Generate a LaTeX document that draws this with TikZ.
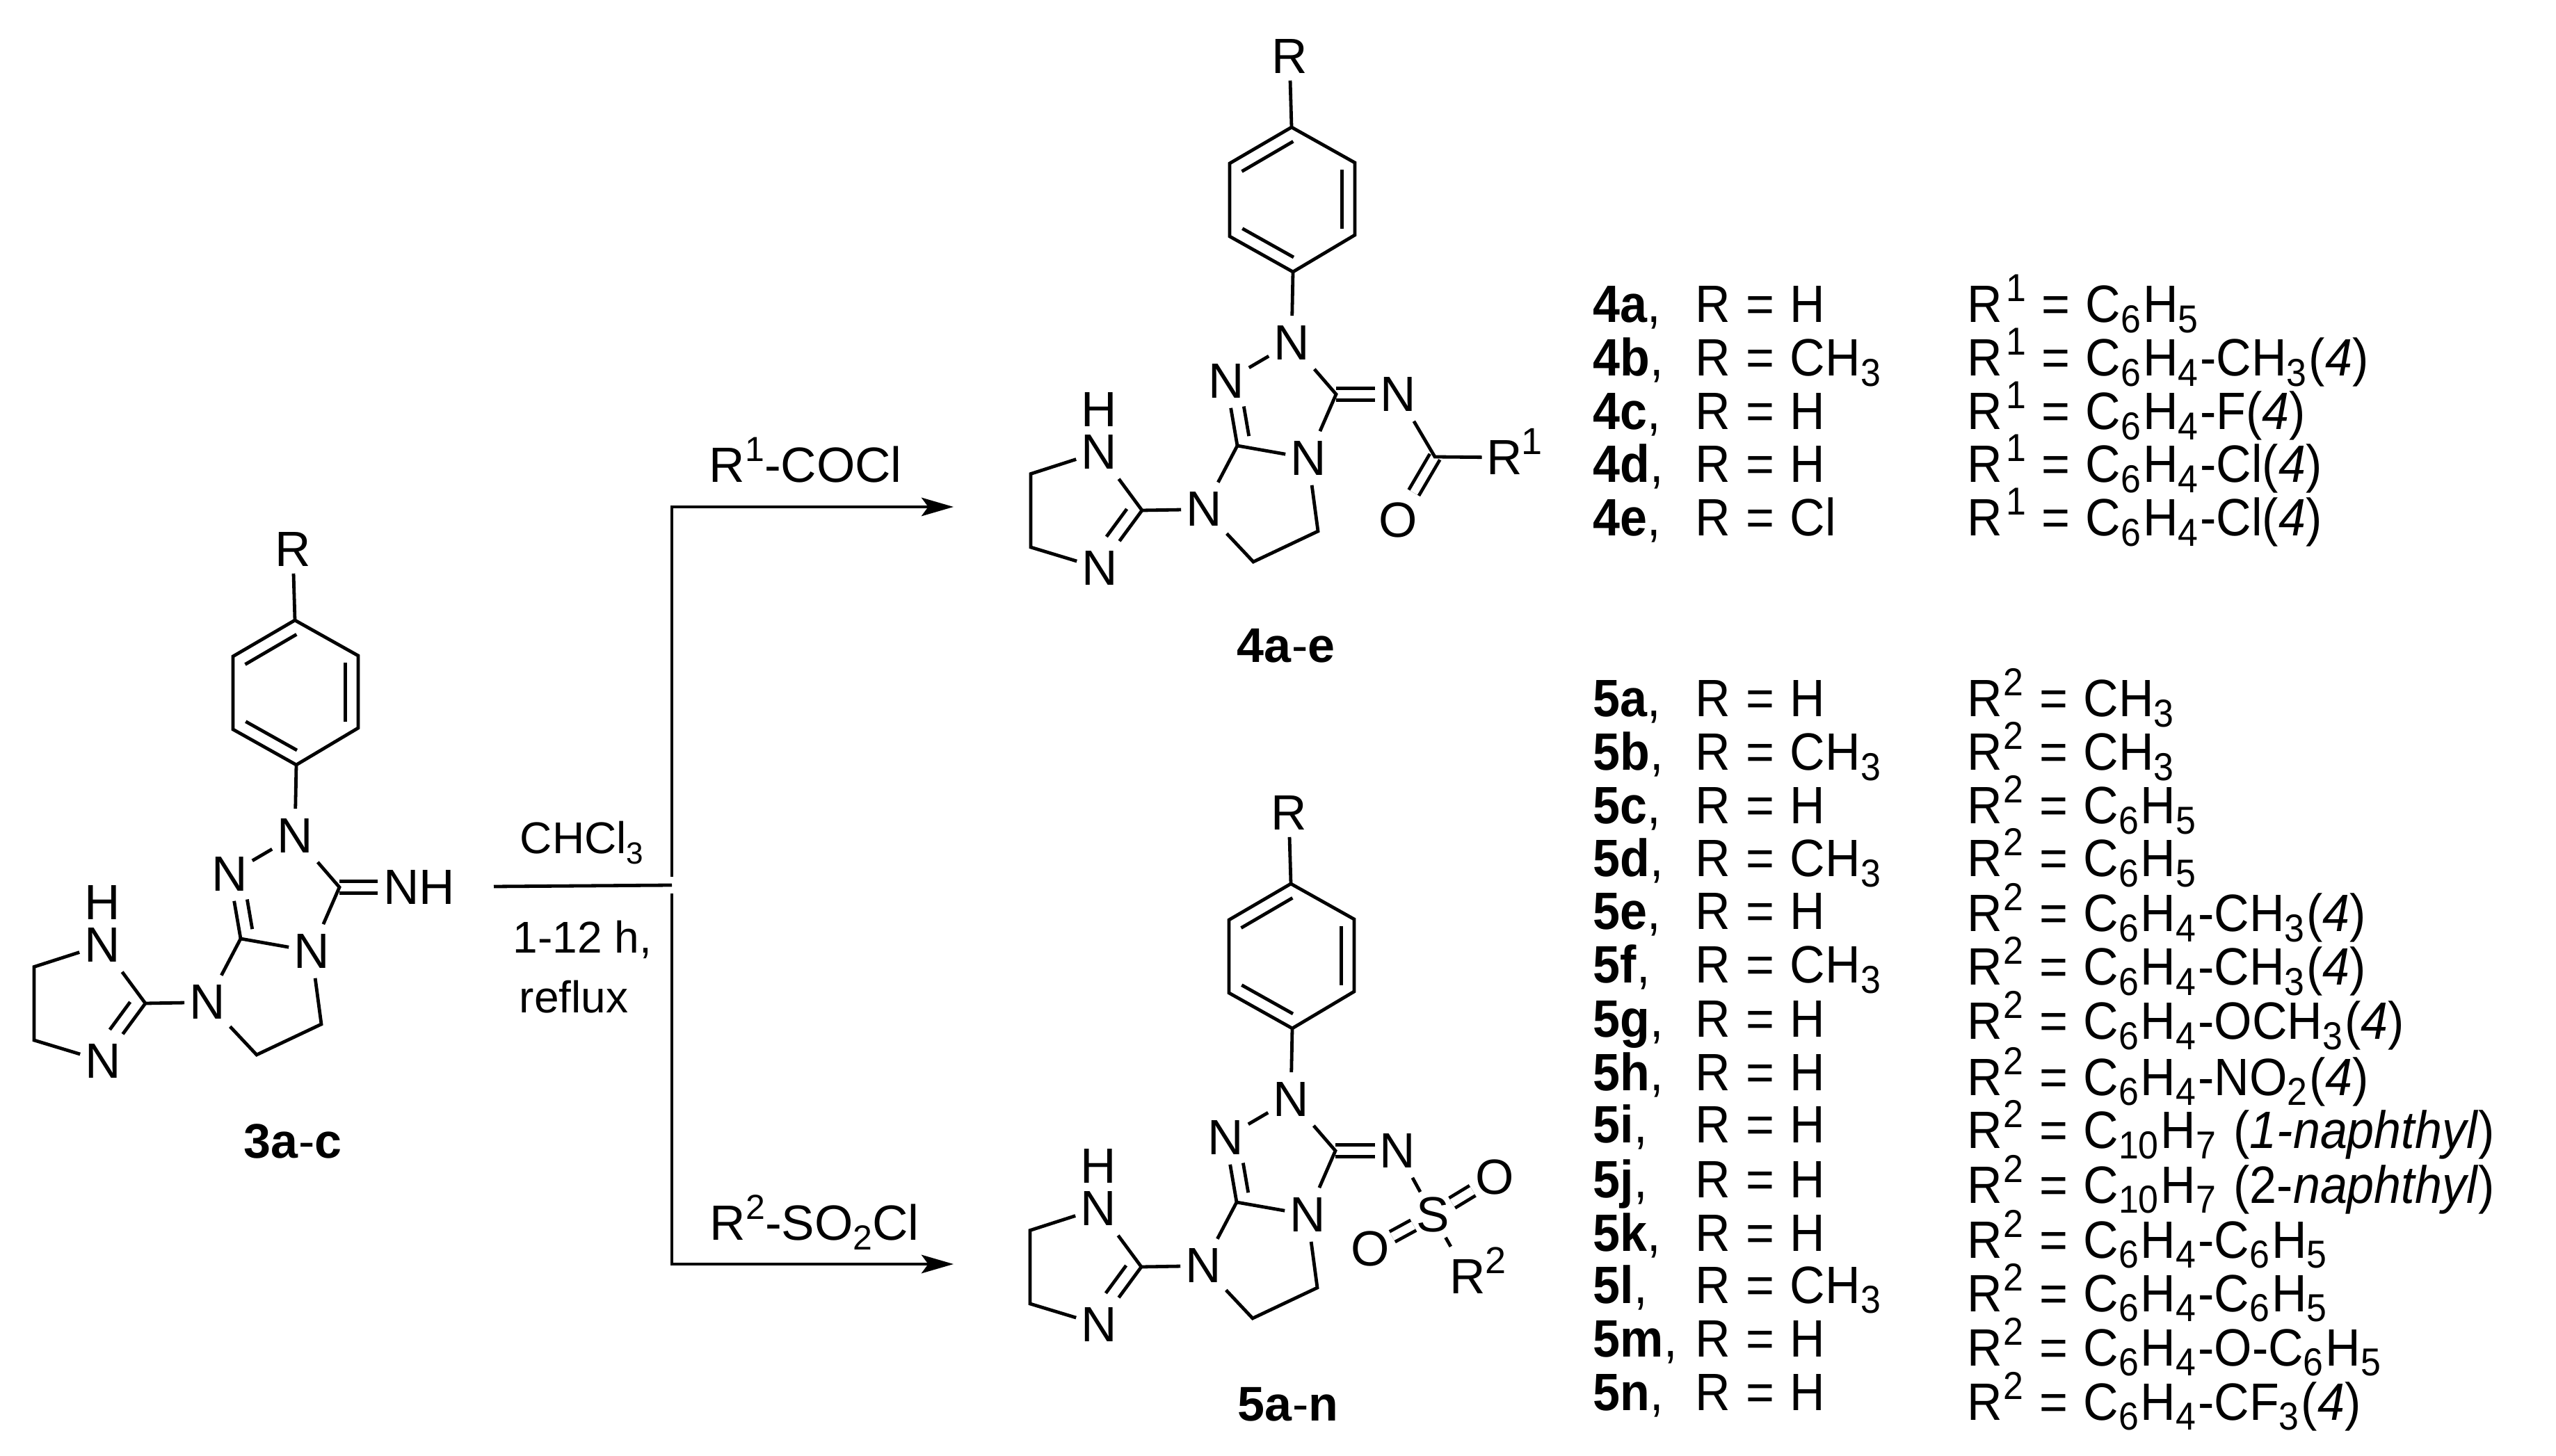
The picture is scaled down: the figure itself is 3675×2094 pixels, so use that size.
\documentclass[tikz,border=0pt]{standalone}
\usepackage{fontspec}
\setmainfont{Liberation Sans}
\newfontfamily\tabfam[FakeStretch=0.926]{Liberation Sans}
\usetikzlibrary{calc,arrows.meta}
\newcommand\ssz{11}
\newcommand\skn{0pt}
\newcommand\myup[1]{\raisebox{7.5pt}{\fontsize{\ssz}{\ssz}\selectfont #1}}
\newcommand\mydn[1]{\raisebox{-3.7pt}{\fontsize{\ssz}{\ssz}\selectfont #1}\kern\skn\relax}
\newcommand\atomfont{\fontsize{17.8}{17.8}\selectfont}
\newcommand\rxnfont{\fontsize{16}{16}\selectfont\renewcommand\ssz{11}}
\newcommand\rxnfontb{\fontsize{17.8}{17.8}\selectfont\renewcommand\ssz{12.5}}
\newcommand\tabfont{\tabfam\fontsize{18.9}{18.9}\selectfont\renewcommand\ssz{14}\renewcommand\skn{.75pt}\spaceskip=5.6pt\relax}
\newcommand\cmpfont{\fontsize{17.5}{17.5}\selectfont}
\tikzset{
  bond/.style={line width=1.2pt},
  dbl/.style={double=white,line width=1.2pt,double distance=2.95pt},
  atom/.style={rectangle,inner sep=0pt,minimum width=16pt,minimum height=19pt,font=\atomfont},
  rgroup/.style={atom,minimum height=17pt},
  oxy/.style={atom,minimum width=15.5pt},
  sulf/.style={atom,minimum width=13.5pt,minimum height=16pt},
  supr/.style={inner sep=0pt,font=\fontsize{13.5}{13.5}\selectfont},
  txt/.style={inner sep=0pt,anchor=base west,font=\rxnfont},
  txtb/.style={inner sep=0pt,anchor=base west,font=\rxnfontb},
  tab/.style={inner sep=0pt,anchor=base west,font=\tabfont},
  cmp/.style={inner sep=0pt,anchor=base,font=\cmpfont},
  rxn/.style={line width=1.2pt},
  rxnarrow/.style={line width=1.2pt,-{Stealth[length=11.5pt,width=6.6pt,inset=2.4pt]}}
}
% offset inner line of a double bond: from a towards b, on the right of the direction
\newcommand\inbond[4]{\draw[bond] ($(#1)!#3!(#2)!4.7pt!-90:(#2)$) -- ($(#1)!#4!(#2)!4.7pt!-90:(#2)$);}
\newcommand\corenodes{%
  \node[rgroup] (R) at (421,790) {R};
  \coordinate (b1) at (424,892);
  \coordinate (b2) at (515,943);
  \coordinate (b3) at (515,1047);
  \coordinate (b4) at (426,1100);
  \coordinate (b5) at (335,1049);
  \coordinate (b6) at (335,944);
  \node[atom] (N2) at (424,1202) {N};
  \node[atom] (N1) at (330,1257) {N};
  \coordinate (C3) at (488,1276);
  \node[atom] (N4) at (448,1368) {N};
  \coordinate (C8) at (346,1350);
  \node[atom] (N7) at (298,1441.5) {N};
  \coordinate (Ca) at (462,1473);
  \coordinate (Cb) at (369,1517);
  \coordinate (Ci) at (209,1443);
  \node[atom] (Nh) at (147,1359) {N};
  \node[atom,minimum height=0pt] (Hh) at (147,1298) {H};
  \node[atom] (Nl) at (148,1526) {N};
  \coordinate (Cc) at (49,1390.5);
  \coordinate (Cd) at (49,1496);
}
\newcommand\corebonds{%
  \draw[bond] (R) -- (b1);
  \draw[bond] (b1) -- (b2) -- (b3) -- (b4) -- (b5) -- (b6) -- cycle;
  \inbond{b6}{b1}{.09}{.92}
  \inbond{b2}{b3}{.10}{.91}
  \inbond{b4}{b5}{.09}{.90}
  \draw[bond] (b4) -- (N2);
  \draw[bond] (N1) -- (N2);
  \draw[bond] (N2) -- (C3) -- (N4);
  \draw[bond] (N4) -- (C8) -- (N7);
  \draw[bond] (C8) -- (N1);
  \inbond{C8}{N1}{.114}{.573}
  \draw[bond] (N4) -- (Ca) -- (Cb) -- (N7);
  \draw[bond] (N7) -- (Ci);
  \draw[bond] (Nh) -- (Ci) -- (Nl);
  \inbond{Ci}{Nl}{.11}{.59}
  \draw[bond] (Nh) -- (Cc) -- (Cd) -- (Nl);
}
\newcommand\tabrow[6]{%
  \node[tab] (l#1) at (2290,#3) {#2};
  \node[tab] (m#1) at (2437,#3) {#4};
  \node[tab] (s#1) at (2828,#5) {#6};
}
\newcommand\Ro{R\kern1.2pt\myup{1}}
\newcommand\Rt{R\kern.4pt\myup{2}}
\begin{document}
\begin{tikzpicture}[x=.25pt,y=-.25pt]
\useasboundingbox (0,0) rectangle (3675,2094);
\fill[white] (0,0) rectangle (3675,2094);

% compound 3
\begin{scope}[name prefix=a-]
  \corenodes
  \node[atom,inner xsep=2pt] (X) at (603,1276) {NH};
  \draw[dbl] (C3) -- (X);
  \corebonds
\end{scope}
\node[cmp] (lab3) at (421,1665) {\textbf{3a}-\textbf{c}};

% compound 4
\begin{scope}[shift={(1433,-709)},name prefix=b-]
  \corenodes
  \node[atom] (X) at (577,1276) {N};
  \coordinate (Cc1) at (630,1366);
  \node[oxy] (O) at (577,1456.5) {O};
  \node[atom] (Rg) at (730.5,1367) {R};
  \node[supr] (Rs) at (769,1343.5) {1};
  \draw[dbl] (C3) -- (X);
  \draw[dbl] (Cc1) -- (O);
  \corebonds
  \draw[bond] (X) -- (Cc1) -- (Rg);
\end{scope}
\node[cmp] (lab4) at (1849,953) {\textbf{4a}-\textbf{e}};

% compound 5
\begin{scope}[shift={(1432,379)},name prefix=c-]
  \corenodes
  \node[atom] (X) at (577.6,1276) {N};
  \node[sulf] (S) at (628,1368) {S};
  \node[oxy] (O1) at (717,1314) {O};
  \node[oxy] (O2) at (538,1417) {O};
  \node[atom,minimum height=21pt] (Rg) at (678,1456.6) {R};
  \node[supr] (Rs) at (718,1434) {2};
  \draw[dbl] (C3) -- (X);
  \draw[dbl] (S) -- (O1);
  \draw[dbl] (S) -- (O2);
  \corebonds
  \draw[bond] (X) -- (S) -- (Rg);
\end{scope}
\node[cmp] (lab5) at (1852,2043) {\textbf{5a}-\textbf{n}};

% reaction scheme
\coordinate (in) at (710,1275);
\coordinate (jn) at (966,1273);
\coordinate (up) at (966,1261);
\coordinate (ct) at (966,729);
\coordinate (pt) at (1371,729);
\coordinate (dn) at (966,1285);
\coordinate (cb) at (966,1818);
\coordinate (pb) at (1371,1818);
\draw[rxn] (in) -- (jn);
\draw[rxnarrow] (up) -- (ct) -- (pt);
\draw[rxnarrow] (dn) -- (cb) -- (pb);
\node[txtb] (t1) at (1019,693.5) {R\myup{1}-COCl};
\node[txtb] (t2) at (1020,1783) {R\myup{2}-SO\mydn{2}Cl};
\node[txt] (t3) at (747,1228) {CHCl\mydn{3}};
\node[txt] (t4) at (737,1371) {1-12 h,};
\node[txt] (t5) at (746,1457) {reflux};

% table
\tabrow{4a}{\textbf{4a},}{464}{R = H}{464}{\Ro{} = C\mydn{6}H\mydn{5}}
\tabrow{4b}{\textbf{4b},}{541}{R = CH\mydn{3}}{541}{\Ro{} = C\mydn{6}H\mydn{4}-CH\mydn{3}(\textit{4})}
\tabrow{4c}{\textbf{4c},}{618}{R = H}{618}{\Ro{} = C\mydn{6}H\mydn{4}-F(\textit{4})}
\tabrow{4d}{\textbf{4d},}{694}{R = H}{694}{\Ro{} = C\mydn{6}H\mydn{4}-Cl(\textit{4})}
\tabrow{4e}{\textbf{4e},}{771}{R = Cl}{771}{\Ro{} = C\mydn{6}H\mydn{4}-Cl(\textit{4})}
\tabrow{5a}{\textbf{5a},}{1031}{R = H}{1031}{\Rt{} = CH\mydn{3}}
\tabrow{5b}{\textbf{5b},}{1108}{R = CH\mydn{3}}{1108}{\Rt{} = CH\mydn{3}}
\tabrow{5c}{\textbf{5c},}{1185}{R = H}{1185}{\Rt{} = C\mydn{6}H\mydn{5}}
\tabrow{5d}{\textbf{5d},}{1261}{R = CH\mydn{3}}{1261}{\Rt{} = C\mydn{6}H\mydn{5}}
\tabrow{5e}{\textbf{5e},}{1337}{R = H}{1340}{\Rt{} = C\mydn{6}H\mydn{4}-CH\mydn{3}(\textit{4})}
\tabrow{5f}{\textbf{5f},}{1414}{R = CH\mydn{3}}{1417}{\Rt{} = C\mydn{6}H\mydn{4}-CH\mydn{3}(\textit{4})}
\tabrow{5g}{\textbf{5g},}{1492}{R = H}{1495}{\Rt{} = C\mydn{6}H\mydn{4}-OCH\mydn{3}(\textit{4})}
\tabrow{5h}{\textbf{5h},}{1568}{R = H}{1575}{\Rt{} = C\mydn{6}H\mydn{4}-NO\mydn{2}(\textit{4})}
\tabrow{5i}{\textbf{5i},}{1643}{R = H}{1652}{\Rt{} = C\mydn{10}H\mydn{7} (\textit{1-naphthyl})}
\tabrow{5j}{\textbf{5j},}{1722}{R = H}{1730}{\Rt{} = C\mydn{10}H\mydn{7} (2-\textit{naphthyl})}
\tabrow{5k}{\textbf{5k},}{1799}{R = H}{1809}{\Rt{} = C\mydn{6}H\mydn{4}-C\mydn{6}H\mydn{5}}
\tabrow{5l}{\textbf{5l},}{1874}{R = CH\mydn{3}}{1886}{\Rt{} = C\mydn{6}H\mydn{4}-C\mydn{6}H\mydn{5}}
\tabrow{5m}{\textbf{5m},}{1951}{R = H}{1964}{\Rt{} = C\mydn{6}H\mydn{4}-O-C\mydn{6}H\mydn{5}}
\tabrow{5n}{\textbf{5n},}{2028}{R = H}{2042}{\Rt{} = C\mydn{6}H\mydn{4}-CF\mydn{3}(\textit{4})}
\end{tikzpicture}
\end{document}
